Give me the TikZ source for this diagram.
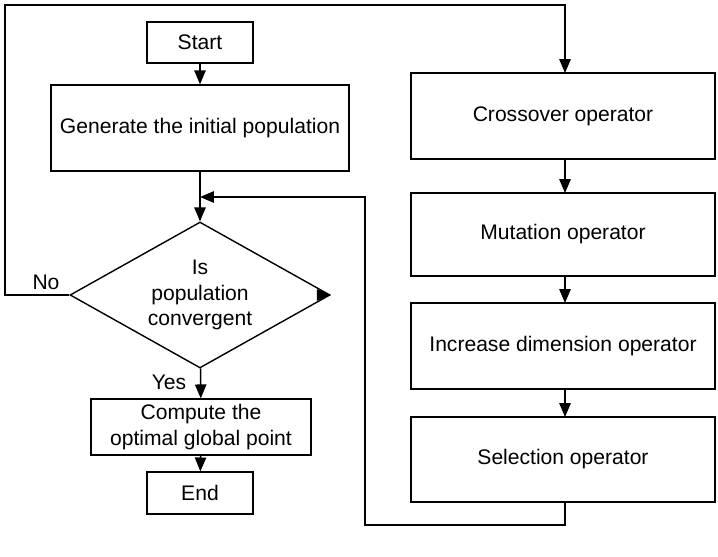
\documentclass[tikz,border=0pt]{standalone}
\usepackage{fontspec}
\setmainfont{Liberation Sans}
\usetikzlibrary{shapes.geometric,arrows,positioning}
\begin{document}
\begin{tikzpicture}[x=0.02cm,y=-0.02cm,
        every node/.style={font=\fontsize{12}{14.5}\selectfont},
        box/.style={draw, thick, rectangle, align=center, inner sep=0pt},
        link/.style={thick, -triangle 45},
        ]
        \useasboundingbox (0,0) rectangle (718,557);
        % left column
        \node [box, minimum width=106*0.02cm, minimum height=41*0.02cm] (start) at (200,42.5) {Start};
        \node [box, minimum width=298*0.02cm, minimum height=86*0.02cm] (init) at (200,128) {Generate the initial population};
        \node [draw, thick, diamond, aspect=1.78, minimum width=260*0.02cm, minimum height=146*0.02cm, inner sep=0pt, align=center] (conv) at (200,295) {Is\\population\\convergent};
        \node [box, minimum width=220*0.02cm, minimum height=56*0.02cm] (best) at (201,427) {Compute the\\optimal global point};
        \node [box, minimum width=106*0.02cm, minimum height=42*0.02cm] (stop) at (200,493) {End};
        % right column
        \node [box, minimum width=304*0.02cm, minimum height=86*0.02cm] (cross) at (563,116) {Crossover operator};
        \node [box, minimum width=304*0.02cm, minimum height=83*0.02cm] (mut) at (563,234.5) {Mutation operator};
        \node [box, minimum width=304*0.02cm, minimum height=86*0.02cm] (dim) at (563,346) {Increase dimension operator};
        \node [box, minimum width=304*0.02cm, minimum height=85*0.02cm] (sel) at (563,459.5) {Selection operator};
        \coordinate (join) at (200,197);
        % connectors
        \draw [link] (start) -- (init);
        \draw [link] (init) -- (conv);
        \draw [link] (conv) -- (best);
        \node at (169,382) {Yes};
        \draw [link] (best) -- (stop);
        \draw [link] (conv.west) -- (5,295) -- (5,5) -- (565,5) -- (565,73);
        \node at (46,282) {No};
        \draw [link] (565,159) -- (565,193);
        \draw [link] (565,276) -- (565,303);
        \draw [link] (565,389) -- (565,417);
        \draw [link] (565,502) -- (565,525) -- (365,525) -- (365,197) -- (join);
        \draw [link] ([xshift=-0.2cm]conv.east) -- (conv.east);
    \end{tikzpicture}
\end{document}
